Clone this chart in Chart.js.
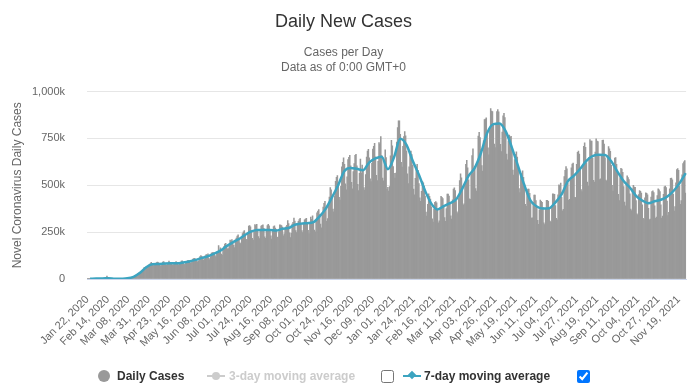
<!DOCTYPE html>
<html>
<head>
<meta charset="utf-8">
<script src="https://cdn.jsdelivr.net/npm/chart.js"></script>
<style>
body{margin:0;background:#fff;font-family:"Liberation Sans",Arial,sans-serif;}
#wrap{position:relative;width:694px;height:390px;}
#legend{position:absolute;left:0;top:368px;width:694px;height:18px;font-size:12px;font-weight:bold;}
#legend .item{position:absolute;top:0;line-height:16px;white-space:nowrap;}
#legend input{position:absolute;margin:0;width:13px;height:13px;top:2px;}
.dot{position:absolute;top:2px;width:12px;height:12px;border-radius:50%;background:#999;}
.sym{position:absolute;top:7px;height:2px;}
.sym i{position:absolute;display:block;}
</style>
</head>
<body>
<div id="wrap">
  <canvas id="casesChart" width="694" height="390"></canvas>
  <div id="legend">
    <span class="dot" style="left:98px"></span>
    <span class="item" style="left:117px;color:#333">Daily Cases</span>
    <span class="sym" style="left:207px;width:18px;background:#ccc"><i style="left:5px;top:-3px;width:8px;height:8px;border-radius:50%;background:#ccc"></i></span>
    <span class="item" style="left:229px;color:#ccc">3-day moving average</span>
    <input type="checkbox" style="left:381px">
    <span class="sym" style="left:403px;width:18px;background:#3ca4c0"><i style="left:6px;top:-3px;width:6px;height:6px;transform:rotate(45deg);background:#3ca4c0"></i></span>
    <span class="item" style="left:424px;color:#333">7-day moving average</span>
    <input type="checkbox" checked style="left:577px">
  </div>
</div>
<script>
// daily new cases, thousands, one row per week (Wed..Tue), from Jan 22, 2020
var dailyCases = [
  0.6, 0.3, 0.3, 0.7, 0.8, 1.4, 1.8,
  1.5, 2.0, 2.1, 2.6, 2.8, 3.2, 3.9,
  3.7, 3.2, 3.4, 2.7, 2.6, 2.5, 2.0,
  2.0, 15.1, 6.5, 2.6, 2.1, 2.0, 1.9,
  0.5, 0.6, 1.0, 1.2, 1.1, 0.7, 0.9,
  1.2, 1.4, 1.8, 1.9, 1.9, 1.7, 2.3,
  2.5, 2.6, 3.1, 4.0, 3.9, 4.3, 4.7,
  7.4, 7.7, 10.6, 11.3, 13.9, 14.9, 15.9,
  18.7, 27.2, 31.8, 32.5, 33.6, 35.8, 40.6,
  49.2, 61.4, 62.5, 63.7, 57.8, 60.4, 74.1,
  76.2, 82.1, 89.6, 81.4, 77.9, 70.6, 74.1,
  80.5, 87.3, 90.1, 87.4, 74.2, 71.6, 70.3,
  81.9, 90.8, 92.6, 84.7, 76.5, 72.4, 76.8,
  83.8, 95.3, 88.3, 86.1, 79.5, 74.4, 77.0,
  81.4, 87.6, 93.1, 89.5, 80.2, 74.7, 80.0,
  89.6, 95.2, 96.5, 90.3, 78.8, 76.4, 87.1,
  92.5, 98.4, 99.7, 98.2, 85.3, 87.9, 92.6,
  105.8, 108.7, 110.2, 105.6, 96.3, 92.1, 94.5,
  107.5, 119.6, 125.1, 120.4, 107.4, 100.6, 108.1,
  124.3, 130.1, 128.4, 134.7, 110.5, 103.6, 120.2,
  138.9, 140.7, 141.3, 138.5, 124.4, 118.9, 143.5,
  147.9, 178.3, 152.5, 166.2, 133.4, 127.6, 156.3,
  172.6, 186.4, 190.1, 178.4, 160.7, 162.3, 175.8,
  208.2, 202.4, 209.9, 188.5, 180.3, 167.8, 209.4,
  217.8, 229.4, 236.2, 214.3, 193.6, 188.5, 215.1,
  242.6, 251.7, 257.9, 237.4, 211.6, 209.3, 237.9,
  282.3, 285.0, 278.9, 256.1, 216.8, 208.1, 249.6,
  290.4, 285.6, 292.2, 263.5, 226.1, 215.7, 258.4,
  281.9, 286.7, 289.4, 270.6, 225.3, 216.4, 256.2,
  285.1, 291.4, 283.7, 263.0, 230.9, 212.8, 260.3,
  279.4, 283.1, 271.2, 263.7, 222.4, 223.6, 252.4,
  288.5, 287.6, 285.3, 276.9, 230.6, 241.2, 264.7,
  278.4, 285.8, 311.6, 296.3, 245.8, 221.5, 243.6,
  292.7, 302.4, 324.5, 309.6, 258.3, 247.5, 289.8,
  307.5, 316.9, 323.1, 296.4, 257.8, 247.6, 291.3,
  315.6, 319.8, 323.4, 300.2, 259.6, 242.3, 297.1,
  330.5, 318.7, 337.2, 306.8, 261.5, 252.3, 313.7,
  353.4, 362.5, 370.8, 343.1, 292.6, 273.4, 343.9,
  383.7, 403.6, 414.5, 379.2, 308.1, 322.4, 389.6,
  437.8, 488.3, 475.2, 442.5, 373.1, 357.9, 443.2,
  520.6, 542.1, 551.3, 506.4, 435.8, 421.7, 494.1,
  598.2, 622.8, 646.5, 612.4, 508.3, 476.2, 545.7,
  637.2, 649.8, 660.4, 603.6, 515.7, 481.2, 573.6,
  616.3, 659.4, 665.2, 603.8, 505.1, 472.3, 564.5,
  639.7, 565.4, 608.3, 586.2, 487.6, 474.1, 556.9,
  650.3, 682.6, 691.4, 647.2, 534.6, 519.3, 617.5,
  693.8, 708.4, 723.9, 651.3, 552.7, 525.8, 628.4,
  727.9, 720.5, 760.1, 658.4, 538.6, 523.2, 631.7,
  689.4, 648.3, 478.6, 489.5, 469.3, 493.7, 657.2,
  740.1, 710.8, 600.2, 563.9, 538.4, 565.7, 730.6,
  808.5, 843.7, 844.2, 772.6, 622.9, 596.8, 708.3,
  760.3, 786.1, 763.4, 682.5, 561.8, 509.4, 598.7,
  681.4, 682.3, 663.5, 606.2, 480.1, 448.7, 537.4,
  597.6, 611.8, 580.4, 508.7, 433.6, 414.9, 468.2,
  519.3, 513.8, 495.2, 443.1, 357.5, 335.2, 398.4,
  454.1, 440.6, 426.7, 385.3, 320.6, 303.4, 373.8,
  408.9, 413.6, 406.3, 372.5, 300.2, 310.4, 380.1,
  441.2, 435.5, 428.7, 391.6, 328.4, 307.8, 375.6,
  452.8, 453.1, 441.9, 399.4, 336.7, 319.2, 422.5,
  479.5, 486.6, 471.3, 416.8, 358.7, 349.6, 431.5,
  524.9, 560.6, 539.7, 484.3, 393.8, 401.2, 508.9,
  611.4, 632.7, 593.3, 528.8, 427.6, 425.3, 559.4,
  658.8, 694.5, 568.1, 599.4, 482.7, 469.3, 623.8,
  762.5, 782.6, 755.3, 692.4, 605.6, 576.2, 736.7,
  851.3, 852.9, 860.4, 785.7, 700.2, 662.3, 800.6,
  908.8, 896.5, 893.4, 829.4, 720.5, 700.7, 822.6,
  893.2, 904.2, 891.7, 822.8, 718.4, 680.5, 784.3,
  870.5, 884.6, 861.9, 786.3, 666.2, 636.1, 737.7,
  768.3, 757.8, 761.4, 700.5, 580.6, 554.3, 636.9,
  665.1, 678.3, 650.7, 605.2, 482.9, 460.5, 555.4,
  562.3, 576.9, 542.6, 506.4, 398.3, 387.4, 468.1,
  479.2, 479.6, 457.3, 412.5, 325.7, 326.4, 409.3,
  447.6, 448.2, 418.3, 383.9, 313.5, 291.4, 369.6,
  421.3, 414.7, 408.5, 380.8, 299.4, 290.6, 373.9,
  419.6, 419.8, 414.4, 372.3, 309.2, 302.1, 387.6,
  454.3, 453.8, 451.9, 391.2, 323.5, 315.8, 448.6,
  502.3, 498.4, 511.7, 435.9, 363.4, 371.8, 546.2,
  579.5, 600.2, 587.4, 511.4, 419.6, 425.8, 528.3,
  593.8, 613.4, 618.3, 545.7, 435.5, 434.6, 612.2,
  676.5, 682.3, 666.7, 581.8, 476.9, 466.3, 598.4,
  708.6, 726.9, 702.8, 620.3, 517.2, 496.5, 649.6,
  744.2, 735.7, 736.4, 644.3, 525.9, 517.3, 676.9,
  748.1, 735.5, 733.2, 655.5, 530.8, 534.4, 665.2,
  739.4, 741.6, 719.8, 646.3, 527.5, 523.1, 657.7,
  706.5, 694.2, 680.9, 606.6, 499.5, 469.7, 597.2,
  645.4, 648.1, 611.3, 566.3, 451.8, 418.9, 541.7,
  590.4, 586.5, 569.2, 493.8, 410.2, 390.6, 513.5,
  550.1, 541.8, 530.5, 454.6, 373.4, 364.8, 481.6,
  500.3, 490.6, 488.7, 418.5, 347.9, 342.1, 450.9,
  472.3, 468.2, 458.5, 395.4, 323.1, 317.7, 432.6,
  459.8, 456.5, 448.6, 377.6, 315.3, 320.4, 437.2,
  466.5, 470.3, 460.7, 390.5, 323.9, 330.2, 445.5,
  481.7, 476.1, 466.8, 396.4, 325.3, 335.1, 451.3,
  491.8, 495.7, 488.2, 416.3, 338.2, 355.6, 481.5,
  537.1, 538.5, 528.6, 453.7, 362.2, 386.3, 512.7,
  584.2, 588.9, 579.3, 496.5, 398.5, 418.6, 556.4,
  615.3, 625.8, 631.4, 458.2
];

// 7-day moving average, thousands, one value per week (mid-week), last one at the final day
var sevenDayAvg = [
  0.8, 2.6, 2.9, 4.6, 1.0, 1.7, 3.6, 11.7, 31.5, 61.3,
  78.8, 80.2, 82.2, 83.5, 83.8, 87.7, 93.5, 101.9, 112.7, 121.7,
  135.2, 151.7, 175.2, 195.2, 213.6, 235.5, 253.8, 261.7, 260.9, 261.0,
  258.5, 267.8, 272.0, 289.3, 295.5, 298.0, 303.0, 334.2, 375.6, 436.1,
  502.0, 576.9, 592.8, 587.8, 580.7, 622.4, 643.6, 652.5, 585.9, 650.7,
  748.4, 716.0, 630.7, 556.5, 470.5, 402.4, 371.3, 389.0, 404.7, 424.7,
  482.6, 549.8, 593.2, 672.6, 778.6, 826.6, 829.6, 787.6, 700.0, 600.4,
  500.7, 417.9, 386.8, 375.9, 378.0, 408.6, 451.4, 520.7, 551.5, 588.7,
  630.7, 655.4, 662.5, 661.8, 627.8, 572.8, 522.7, 488.0, 444.1, 418.7,
  404.2, 414.5, 423.0, 439.2, 468.2, 510.5, 565.0
];

// x axis labels shown (every 23 days)
var tickLabels = [
  'Jan 22, 2020', 'Feb 14, 2020', 'Mar 08, 2020', 'Mar 31, 2020', 'Apr 23, 2020',
  'May 16, 2020', 'Jun 08, 2020', 'Jul 01, 2020', 'Jul 24, 2020', 'Aug 16, 2020',
  'Sep 08, 2020', 'Oct 01, 2020', 'Oct 24, 2020', 'Nov 16, 2020', 'Dec 09, 2020',
  'Jan 01, 2021', 'Jan 24, 2021', 'Feb 16, 2021', 'Mar 11, 2021', 'Apr 03, 2021',
  'Apr 26, 2021', 'May 19, 2021', 'Jun 11, 2021', 'Jul 04, 2021', 'Jul 27, 2021',
  'Aug 19, 2021', 'Sep 11, 2021', 'Oct 04, 2021', 'Oct 27, 2021', 'Nov 19, 2021'
];

var FONT = '"Liberation Sans", Arial, sans-serif';
var months = ['Jan','Feb','Mar','Apr','May','Jun','Jul','Aug','Sep','Oct','Nov','Dec'];

// one category per day
var dayLabels = [];
for (var i = 0; i < dailyCases.length; i++) {
    var d = new Date(Date.UTC(2020, 0, 22 + i));
    var dd = d.getUTCDate();
    dayLabels.push(months[d.getUTCMonth()] + ' ' + (dd < 10 ? '0' + dd : dd) + ', ' + d.getUTCFullYear());
}

var avgPoints = [];
for (var k = 0; k < sevenDayAvg.length; k++) {
    var idx = Math.min(k * 7 + 3, dailyCases.length - 1);
    avgPoints.push({x: dayLabels[idx], y: sevenDayAvg[k]});
}

var ctx = document.getElementById('casesChart').getContext('2d');
var casesChart = new Chart(ctx, {
    type: 'bar',
    data: {
        labels: dayLabels,
        datasets: [{
            type: 'line',
            label: '7-day moving average',
            data: avgPoints,
            borderColor: '#3ca4c0',
            borderWidth: 2.5,
            pointRadius: 0,
            cubicInterpolationMode: 'monotone',
            fill: false,
            order: 0
        }, {
            label: 'Daily Cases',
            data: dailyCases,
            backgroundColor: '#999999',
            borderWidth: 0,
            barPercentage: 1,
            categoryPercentage: 1,
            order: 1
        }]
    },
    options: {
        responsive: false,
        animation: false,
        devicePixelRatio: 1,
        layout: {padding: {left: 0, right: 7, top: 0, bottom: 31}},
        plugins: {
            legend: {display: false},
            tooltip: {enabled: false},
            title: {
                display: true,
                text: 'Daily New Cases',
                color: '#333333',
                font: {family: FONT, size: 18, weight: 'normal'},
                padding: {top: 11, bottom: 13}
            },
            subtitle: {
                display: true,
                text: ['Cases per Day', 'Data as of 0:00 GMT+0'],
                color: '#666666',
                font: {family: FONT, size: 12, lineHeight: 1.25},
                padding: {top: 0, bottom: 16}
            }
        },
        scales: {
            x: {
                grid: {display: false},
                border: {display: true, color: '#ccd6eb'},
                ticks: {
                    autoSkip: false,
                    minRotation: 45,
                    maxRotation: 45,
                    padding: 6,
                    color: '#666666',
                    font: {family: FONT, size: 11},
                    callback: function (value, index) {
                        var lab = dayLabels[index];
                        return tickLabels.indexOf(lab) >= 0 ? lab : null;
                    }
                },
                afterFit: function (scale) { scale.height = 80; }
            },
            y: {
                min: 0,
                max: 1000,
                grid: {color: '#e6e6e6', drawTicks: false},
                border: {display: false},
                ticks: {
                    stepSize: 250,
                    padding: 22,
                    color: '#666666',
                    font: {family: FONT, size: 11},
                    callback: function (v) { return v === 0 ? '0' : v.toLocaleString('en-US') + 'k'; }
                },
                title: {
                    display: true,
                    text: 'Novel Coronavirus Daily Cases',
                    color: '#666666',
                    font: {family: FONT, size: 12},
                    padding: 10
                },
                afterFit: function (scale) { scale.width = 87; }
            }
        }
    }
});
</script>
</body>
</html>
